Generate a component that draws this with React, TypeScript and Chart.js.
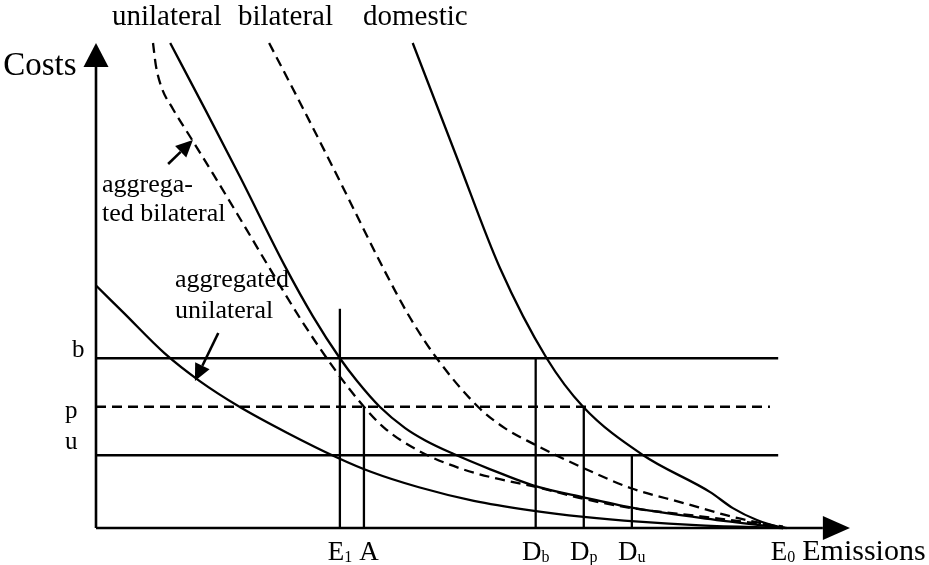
import React, { useEffect, useRef } from "react";
import { Chart, registerables } from "chart.js";

Chart.register(...registerables);

// Emissions (x) and Costs (y) in schematic units; E0 = 100
const aggUnilateral: number[][] = [
  [0, 50], [4, 44.4], [10, 36.0], [15, 30.4], [21, 24.9], [28, 19.5], [35, 14.6],
  [40, 11.6], [47, 8.4], [55, 5.6], [63, 3.7], [71, 2.3], [79, 1.3], [88, 0.55], [100, 0],
];
const aggBilateral: number[][] = [
  [8.3, 100], [8.7, 95.5], [9.5, 91.0], [11.2, 86.4], [14, 80.0], [17, 73.1], [20.5, 64.9],
  [25, 54.2], [30, 42.6], [35, 32.2], [39, 25.0], [42, 20.6], [47, 15.9], [53, 12.3],
  [58, 10.3], [64, 8.5], [71, 6.0], [78, 4.1], [88, 2.4], [100, 0.3], [101.7, 0],
];
const unilateral: number[][] = [
  [10.8, 100], [16, 86.0], [21, 72.3], [27.5, 54.0], [31.6, 43.6], [35.5, 35.0], [38, 30.3],
  [41.3, 25.0], [45, 20.6], [48, 18.0], [52, 15.3], [57.4, 12.1], [63.6, 8.8], [71, 6.3],
  [78, 4.2], [88, 2.1], [100, 0],
];
const bilateral: number[][] = [
  [25.2, 100], [30.5, 85.5], [35.5, 71.5], [41.8, 53.6], [45.7, 43.4], [49.6, 35.0],
  [55.6, 25.0], [59.5, 20.6], [63.6, 17.4], [70.9, 12.4], [77.9, 8.2], [85.4, 5.2],
  [92.7, 2.3], [100.3, 0],
];
const domestic: number[][] = [
  [46.1, 100], [52.5, 76.5], [58.8, 53.6], [65.6, 35.0], [70.9, 25.0], [79.6, 15.05],
  [89.4, 7.4], [92.7, 4.1], [96.2, 1.65], [99.6, 0.2], [100.5, 0],
];

// price levels and emission levels
const levelB = 35;
const levelP = 25;
const levelU = 15;
const levelEnd = 99.3;
const levelPEnd = 98.1;
const E1 = 35.5;
const E1Top = 45.2;
const A = 39;
const Db = 64;
const Dp = 71;
const Du = 78;
const E0 = 100;
const xAxisEnd = 105.8;
const xAxisTip = 109.75;
const yAxisEnd = 95.05;
const yAxisTip = 100;

// text labels
const topLabels: [string, number, number][] = [
  ["unilateral", 2.33, 103.7],
  ["bilateral", 20.67, 103.7],
  ["domestic", 38.86, 103.7],
];
const innerLabels: [string, number, number][] = [
  ["aggrega-", 0.87, 69.3],
  ["ted bilateral", 0.87, 63.3],
  ["aggregated", 11.5, 49.7],
  ["unilateral", 11.5, 43.3],
];
const levelLabels: [string, number, number][] = [
  ["b", -3.5, 35.3],
  ["p", -4.5, 22.7],
  ["u", -4.5, 16.3],
];
const bottomLabels: [string, string, number][] = [
  ["E", "1", E1],
  ["A", "", A],
  ["D", "b", Db],
  ["D", "p", Dp],
  ["D", "u", Du],
  ["E", "0", E0],
];
const arrowsData: number[][] = [
  [10.5, 75.05, 14.1, 80.0],
  [17.8, 40.2, 14.4, 30.3],
];

const SERIF = '"Liberation Serif", "Times New Roman", serif';

export default function App() {
  const ref = useRef<HTMLCanvasElement>(null);

  useEffect(() => {
    if (!ref.current) return;
    const pts = (arr: number[][]) => arr.map(([x, y]) => ({ x, y }));
    const line = (arr: number[][], dashed = false, width = 2.3, curve = true) => ({
      data: pts(arr),
      showLine: true,
      borderColor: "#000",
      backgroundColor: "#000",
      borderWidth: width,
      borderDash: dashed ? [10, 6] : [],
      pointRadius: 0,
      fill: false,
      tension: 0,
      cubicInterpolationMode: curve ? "monotone" : "default",
      clip: false,
    });

    const datasets: any[] = [
      line([[0, 0], [xAxisEnd, 0]], false, 2.6, false),
      line([[0, 0], [0, yAxisEnd]], false, 2.6, false),
      line([[0, levelB], [levelEnd, levelB]], false, 2.3, false),
      line([[0, levelP], [levelPEnd, levelP]], true, 2.3, false),
      line([[0, levelU], [levelEnd, levelU]], false, 2.3, false),
      line([[E1, 0], [E1, E1Top]], false, 2.3, false),
      line([[A, 0], [A, levelP]], false, 2.3, false),
      line([[Db, 0], [Db, levelB]], false, 2.3, false),
      line([[Dp, 0], [Dp, levelP]], false, 2.3, false),
      line([[Du, 0], [Du, levelU]], false, 2.3, false),
      line(aggUnilateral),
      line(aggBilateral, true),
      line(unilateral),
      line(bilateral, true),
      line(domestic),
    ];

    const annot = {
      id: "annot",
      afterDatasetsDraw(chart: any) {
        const { ctx } = chart;
        const sx = chart.scales.x;
        const sy = chart.scales.y;
        const px = (v: number) => sx.getPixelForValue(v);
        const py = (v: number) => sy.getPixelForValue(v);
        ctx.save();
        ctx.fillStyle = "#000";
        ctx.strokeStyle = "#000";

        // axis arrowheads
        ctx.beginPath();
        ctx.moveTo(px(0), py(yAxisTip));
        ctx.lineTo(px(0) - 12.5, py(yAxisEnd));
        ctx.lineTo(px(0) + 12.5, py(yAxisEnd));
        ctx.closePath();
        ctx.fill();
        ctx.beginPath();
        ctx.moveTo(px(xAxisTip), py(0));
        ctx.lineTo(px(xAxisEnd), py(0) - 12);
        ctx.lineTo(px(xAxisEnd), py(0) + 12);
        ctx.closePath();
        ctx.fill();

        // pointer arrows
        arrowsData.forEach(([x1, y1, x2, y2]) => {
          const X1 = px(x1), Y1 = py(y1), X2 = px(x2), Y2 = py(y2);
          const ang = Math.atan2(Y2 - Y1, X2 - X1);
          const hl = 17, hw = 8;
          const bx = X2 - hl * Math.cos(ang), by = Y2 - hl * Math.sin(ang);
          ctx.lineWidth = 2.6;
          ctx.beginPath();
          ctx.moveTo(X1, Y1);
          ctx.lineTo(bx, by);
          ctx.stroke();
          ctx.beginPath();
          ctx.moveTo(X2, Y2);
          ctx.lineTo(bx + hw * Math.sin(ang), by - hw * Math.cos(ang));
          ctx.lineTo(bx - hw * Math.sin(ang), by + hw * Math.cos(ang));
          ctx.closePath();
          ctx.fill();
        });

        ctx.textBaseline = "alphabetic";
        ctx.textAlign = "left";
        ctx.font = `29px ${SERIF}`;
        topLabels.forEach(([t, x, y]) => ctx.fillText(t, px(x), py(y)));
        ctx.font = `33px ${SERIF}`;
        ctx.fillText("Costs", px(-13.5), py(93.4));
        ctx.font = `26px ${SERIF}`;
        innerLabels.forEach(([t, x, y]) => ctx.fillText(t, px(x), py(y)));
        ctx.font = `25px ${SERIF}`;
        levelLabels.forEach(([t, x, y]) => ctx.fillText(t, px(x), py(y)));

        // bottom labels with subscripts
        const base = py(0) + 32;
        bottomLabels.forEach(([main, sub, x]) => {
          ctx.font = `27px ${SERIF}`;
          const w1 = ctx.measureText(main).width;
          ctx.font = `16px ${SERIF}`;
          const w2 = sub ? ctx.measureText(sub).width : 0;
          const total = w1 + w2;
          let left = px(x) - total / 2;
          if (main === "A") left += 5;
          ctx.font = `27px ${SERIF}`;
          ctx.fillText(main, left, base);
          if (sub) {
            ctx.font = `16px ${SERIF}`;
            ctx.fillText(sub, left + w1, base + 2);
          }
        });
        ctx.font = `30px ${SERIF}`;
        ctx.fillText("Emissions", px(102.8), base);
        ctx.restore();
      },
    };

    const chart = new Chart(ref.current, {
      type: "scatter",
      data: { datasets },
      options: {
        animation: false,
        responsive: false,
        maintainAspectRatio: false,
        layout: { padding: { left: 96, right: 146, top: 43, bottom: 37 } },
        scales: {
          x: { type: "linear", min: 0, max: 100, display: false },
          y: { type: "linear", min: 0, max: 100, display: false },
        },
        plugins: {
          legend: { display: false },
          tooltip: { enabled: false },
        },
      },
      plugins: [annot],
    } as any);
    return () => chart.destroy();
  }, []);

  return (
    <div style={{ position: "fixed", left: 0, top: 0, width: 929, height: 565, background: "#fff" }}>
      <canvas ref={ref} width={929} height={565} style={{ display: "block" }} />
    </div>
  );
}
